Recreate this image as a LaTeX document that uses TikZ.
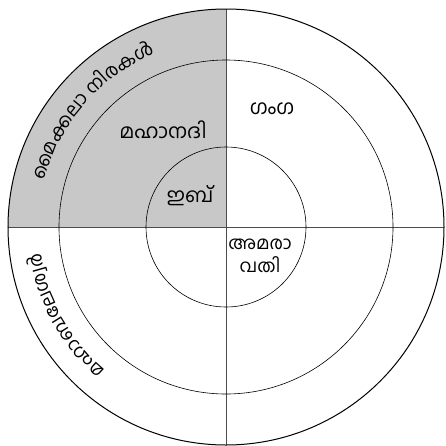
\documentclass[tikz,border=0pt]{standalone}
\usepackage{fontspec}
\newfontfamily\malfont[Script=Malayalam]{Hind Kochi}
\newcommand\lblfont{\malfont\fontsize{20}{23}\selectfont}
\newcommand\arcfont{\malfont\fontsize{18.5}{23}\selectfont}
\definecolor{quadgray}{RGB}{200,200,200}
\newdimen\clw
\newdimen\arctot
\newdimen\arcpos
\tikzset{
  ring/.style={draw=black, line width=0.6pt},
  outerring/.style={draw=black, line width=1.0pt},
  axisline/.style={draw=black!70, line width=0.6pt},
  lbl/.style={font=\lblfont, inner sep=0pt, align=center},
  arcl/.style={font=\arcfont, inner sep=0pt, anchor=base},
}
% measure clusters before the picture: #1 name, #2 radius, #3 middle angle, #4 clusters
\newcommand\arcprep[4]{%
  \global\arctot=0pt
  \foreach \cl in {#4}{\setbox0=\hbox{\arcfont\cl}\global\advance\arctot by \wd0 }%
  \global\arcpos=0pt
  \foreach \cl [count=\i] in {#4}{%
    \setbox0=\hbox{\arcfont\cl}\clw=\wd0
    \pgfmathsetmacro\ang{#3 - deg((\the\arcpos + 0.5*\the\clw - 0.5*\the\arctot)/#2)}%
    \expandafter\xdef\csname arcang#1\i\endcsname{\ang}%
    \global\advance\arcpos by \clw
  }%
}
% place clusters: #1 name, #2 radius, #3 clusters
\newcommand\arcput[3]{%
  \foreach \cl [count=\i] in {#3}{%
    \pgfmathsetmacro\ang{\csname arcang#1\i\endcsname}%
    \pgfmathsetmacro\rot{\ang-90}%
    \node[arcl, rotate=\rot] (#1\i) at (\ang:#2pt) {\cl};
  }%
}
\def\mkclusters{മൈ,ക്ക,ലാ,\ ,നി,ര,ക,ൾ}
\def\blclusters{മ,ഹാ,ബ,ലേ,ശ്വ,ർ}
\expandafter\arcprep\expandafter{\expandafter m\expandafter k\expandafter}\expandafter{\expandafter1\expandafter8\expandafter7\expandafter}\expandafter{\expandafter1\expandafter3\expandafter9\expandafter}\expandafter{\mkclusters}
\expandafter\arcprep\expandafter{\expandafter b\expandafter l\expandafter}\expandafter{\expandafter1\expandafter8\expandafter7\expandafter}\expandafter{\expandafter2\expandafter0\expandafter9\expandafter}\expandafter{\blclusters}
\begin{document}
\begin{tikzpicture}[x=1pt,y=1pt]
\useasboundingbox (-226,-218) rectangle (220,227);
\coordinate (O) at (0,0);
\fill[quadgray] (O) -- (-218,0) arc (180:90:218) -- cycle;
\draw[axisline] (0,218) -- (0,-218);
\draw[axisline] (-218,0) -- (218,0);
\draw[ring] (O) circle (80);
\draw[ring] (O) circle (167);
\draw[outerring] (O) circle (218);
\node[lbl] (mahanadi) at (-63,97) {മഹാനദി};
\node[lbl] (ib) at (-36,31) {ഇബ്};
\node[lbl] (ganga) at (46,118) {ഗംഗ};
\node[lbl, font=\malfont\fontsize{18}{23}\selectfont] (amaravati) at (34,-29) {അമരാ\\വതി};
\expandafter\arcput\expandafter{\expandafter m\expandafter k\expandafter}\expandafter{\expandafter1\expandafter8\expandafter7\expandafter}\expandafter{\mkclusters}
\expandafter\arcput\expandafter{\expandafter b\expandafter l\expandafter}\expandafter{\expandafter1\expandafter8\expandafter7\expandafter}\expandafter{\blclusters}
\end{tikzpicture}
\end{document}
